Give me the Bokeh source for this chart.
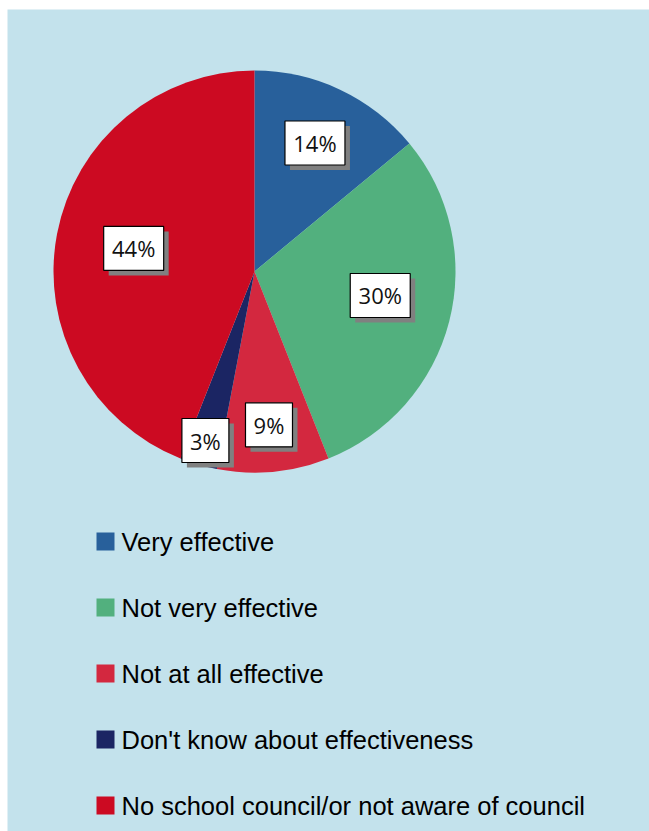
import math
from bokeh.plotting import figure
from bokeh.models import Range1d
from bokeh.core.properties import value
from bokeh.embed import file_html
from bokeh.resources import INLINE

# ---- data ----
categories = ["Very effective", "Not very effective", "Not at all effective",
              "Don't know about effectiveness", "No school council/or not aware of council"]
percents = [14, 30, 9, 3, 44]
labels = ["14%", "30%", "9%", "3%", "44%"]
colors = ["#28609B", "#52B07E", "#D3283F", "#1B2563", "#CC0A22"]

# ---- layout / style ----
W, H = 649, 831
BL, BT = 7, 9                 # white border left / top
FW, FH = W - BL, H - BT       # frame size
BG = "#C3E2EC"
CX, CY, R = 247, 560, 201
label_r = [142, 128, 154, 176, 123]
label_da = [0, 3.6, 0, 0, 0]   # small angle nudges (degrees)
SH = 5                          # shadow offset

p = figure(width=W, height=H, output_backend="svg", toolbar_location=None,
           x_range=Range1d(0, FW), y_range=Range1d(0, FH),
           min_border_left=BL, min_border_top=BT, min_border_right=0, min_border_bottom=0)
p.axis.visible = False
p.grid.visible = False
p.outline_line_color = None
p.background_fill_color = BG
p.border_fill_color = "white"

total = sum(percents)
starts, ends, mids = [], [], []
cum = 0
for v in percents:
    a0 = math.pi / 2 - 2 * math.pi * cum / total
    cum += v
    a1 = math.pi / 2 - 2 * math.pi * cum / total
    starts.append(a0)
    ends.append(a1)
    mids.append((a0 + a1) / 2)

p.wedge(x=[CX] * len(percents), y=[CY] * len(percents), radius=R,
        start_angle=starts, end_angle=ends, direction="clock",
        fill_color=colors, line_color=None)

lx = [CX + r * math.cos(m + math.radians(d)) for r, m, d in zip(label_r, mids, label_da)]
ly = [CY + r * math.sin(m + math.radians(d)) for r, m, d in zip(label_r, mids, label_da)]
bw = [13 * len(t) + 21 for t in labels]

p.rect(x=[x + SH for x in lx], y=[y - SH for y in ly], width=bw, height=44,
       width_units="screen", height_units="screen",
       fill_color="#808080", line_color=None)
p.rect(x=lx, y=ly, width=bw, height=44, width_units="screen", height_units="screen",
       fill_color="white", line_color="black", line_width=1.2)
p.text(x=lx, y=ly, text=labels, text_align="center", text_baseline="middle",
       text_font=value("Open Sans"), text_font_size="22px", text_color="#111111")

# ---- legend ----
leg_x, leg_y0, leg_dy = 98, 290, 66
ly_leg = [leg_y0 - i * leg_dy for i in range(len(categories))]
p.rect(x=[leg_x] * len(categories), y=ly_leg, width=18, height=18,
       width_units="screen", height_units="screen", fill_color=colors, line_color=None)
p.text(x=[leg_x + 16] * len(categories), y=ly_leg, text=categories,
       text_align="left", text_baseline="middle",
       text_font=value("Liberation Sans"), text_font_size="25.5px", text_color="black")

open("out.html", "w").write(file_html(p, INLINE))
